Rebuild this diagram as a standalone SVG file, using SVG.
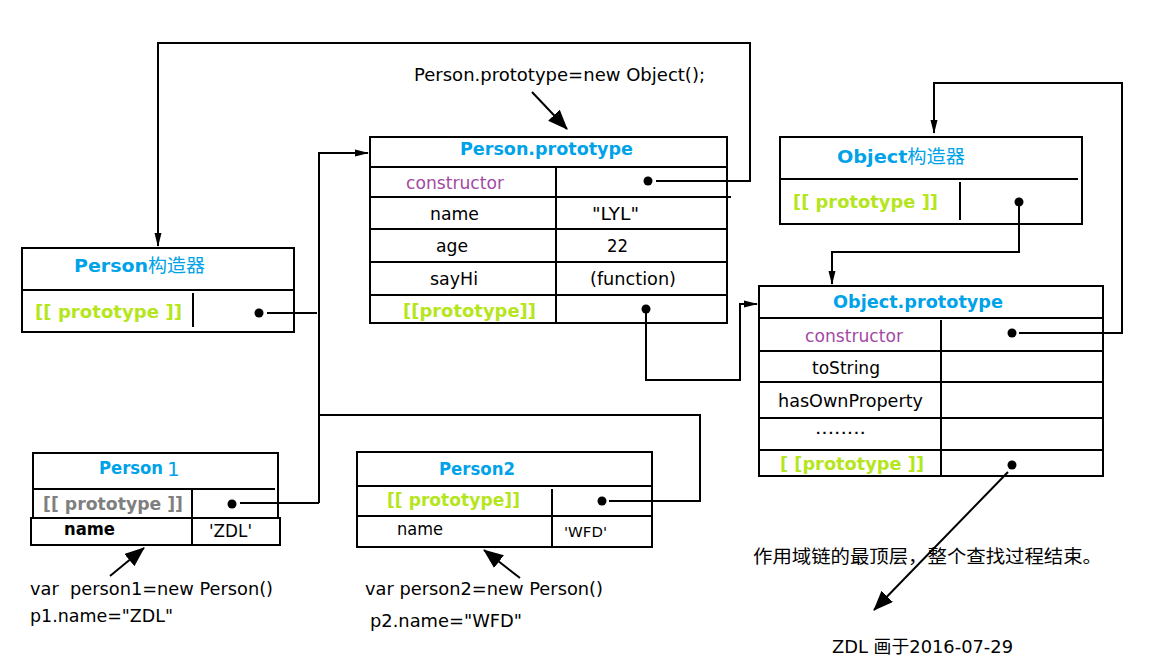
<svg xmlns="http://www.w3.org/2000/svg" width="1157" height="668" viewBox="0 0 1157 668">
<style>
text{font-family:"DejaVu Sans","Noto Sans CJK SC",sans-serif;font-size:18px;fill:#000}
.b{font-weight:bold}
.blue{fill:#00a2e8;font-weight:bold}
.green{fill:#b5e61d;font-weight:bold}
.gray{fill:#7f7f7f;font-weight:bold}
.purple{fill:#a349a4}
.cjk{font-weight:normal}
.box{fill:none;stroke:#000;stroke-width:2}
.ln{stroke:#000;stroke-width:2;fill:none}
.con{stroke:#000;stroke-width:2;fill:none}
.dot{fill:#000}
</style>
<defs>
<marker id="arr" markerUnits="userSpaceOnUse" markerWidth="14" markerHeight="8" refX="13" refY="4" orient="auto">
<path d="M0,0.5 L14,4 L0,7.5 z" fill="#000"/>
</marker>
<marker id="arrBig" markerUnits="userSpaceOnUse" markerWidth="20" markerHeight="16" refX="19" refY="8" orient="auto">
<path d="M0,0 L20,8 L0,16 z" fill="#000"/>
</marker>
</defs>
<rect width="1157" height="668" fill="#fff"/>

<g id="connectors">
<path class="con" d="M656,181 H750 V43 H158 V246" marker-end="url(#arr)"/>
<path class="con" d="M267,313 H317"/>
<path class="con" d="M319,503 V153 H368" marker-end="url(#arr)"/>
<path class="con" d="M240,503 H319"/>
<path class="con" d="M319,415 H700 V501 H609"/>
<path class="con" d="M646,313 V380 H740 V304 H757" marker-end="url(#arr)"/>
<path class="con" d="M1019,206 V252 H832 V284" marker-end="url(#arr)"/>
<path class="con" d="M1019,333 H1122 V83 H934 V133" marker-end="url(#arr)"/>
<path class="con" d="M1008,472 L874,610" marker-end="url(#arrBig)"/>
<path class="con" d="M532,92 L567,129" marker-end="url(#arrBig)"/>
<path class="con" d="M110,576 L144,548" marker-end="url(#arrBig)"/>
<path class="con" d="M520,578 L484,550" marker-end="url(#arrBig)"/>
</g>

<g id="label-new-object">
<text x="414" y="81" textLength="291" lengthAdjust="spacingAndGlyphs">Person.prototype=new Object();</text>
</g>

<g id="person-constructor">
<rect class="box" x="22" y="248" width="272" height="84"/>
<line class="ln" x1="22" y1="290" x2="294" y2="290"/>
<line class="ln" x1="193" y1="293" x2="193" y2="327"/>
<text x="74" y="272" textLength="131" lengthAdjust="spacingAndGlyphs"><tspan class="blue">Person</tspan><tspan class="blue cjk">构造器</tspan></text>
<text class="green" x="35" y="318" textLength="147" lengthAdjust="spacingAndGlyphs">[[ prototype ]]</text>
<circle class="dot" cx="259" cy="313" r="4.5"/>
</g>

<g id="person-prototype">
<rect class="box" x="370" y="137" width="357" height="186"/>
<line class="ln" x1="370" y1="167" x2="727" y2="167"/>
<line class="ln" x1="370" y1="197" x2="731" y2="197"/>
<line class="ln" x1="370" y1="229" x2="727" y2="229"/>
<line class="ln" x1="370" y1="262" x2="727" y2="262"/>
<line class="ln" x1="370" y1="295" x2="727" y2="295"/>
<line class="ln" x1="556" y1="167" x2="556" y2="323"/>
<text class="blue" x="460" y="155" textLength="173" lengthAdjust="spacingAndGlyphs">Person.prototype</text>
<text class="purple" x="406" y="189" textLength="98" lengthAdjust="spacingAndGlyphs">constructor</text>
<text x="430" y="220" textLength="49" lengthAdjust="spacingAndGlyphs">name</text>
<text x="592" y="220" textLength="47" lengthAdjust="spacingAndGlyphs">"LYL"</text>
<text x="436" y="252" textLength="32" lengthAdjust="spacingAndGlyphs">age</text>
<text x="607" y="252" textLength="21" lengthAdjust="spacingAndGlyphs">22</text>
<text x="430" y="285" textLength="48" lengthAdjust="spacingAndGlyphs">sayHi</text>
<text x="590" y="285" textLength="86" lengthAdjust="spacingAndGlyphs">(function)</text>
<text class="green" x="403" y="317" textLength="133" lengthAdjust="spacingAndGlyphs">[[prototype]]</text>
<circle class="dot" cx="648" cy="181" r="4.5"/>
<circle class="dot" cx="646" cy="309" r="4.5"/>
</g>

<g id="object-constructor">
<rect class="box" x="780" y="137" width="302" height="87"/>
<line class="ln" x1="780" y1="179" x2="1078" y2="179"/>
<line class="ln" x1="960" y1="182" x2="960" y2="220"/>
<text x="837" y="163" textLength="128" lengthAdjust="spacingAndGlyphs"><tspan class="blue">Object</tspan><tspan class="blue cjk">构造器</tspan></text>
<text class="green" x="793" y="208" textLength="145" lengthAdjust="spacingAndGlyphs">[[ prototype ]]</text>
<circle class="dot" cx="1019" cy="202" r="4.5"/>
</g>

<g id="object-prototype">
<rect class="box" x="759" y="286" width="344" height="190"/>
<line class="ln" x1="759" y1="318" x2="1103" y2="318"/>
<line class="ln" x1="759" y1="351" x2="1103" y2="351"/>
<line class="ln" x1="759" y1="382" x2="1103" y2="382"/>
<line class="ln" x1="759" y1="418" x2="1103" y2="418"/>
<line class="ln" x1="759" y1="450" x2="1103" y2="450"/>
<line class="ln" x1="941" y1="320" x2="941" y2="476"/>
<text class="blue" x="833" y="308" textLength="170" lengthAdjust="spacingAndGlyphs">Object.prototype</text>
<text class="purple" x="805" y="342" textLength="98" lengthAdjust="spacingAndGlyphs">constructor</text>
<text x="812" y="374" textLength="68" lengthAdjust="spacingAndGlyphs">toString</text>
<text x="778" y="407" textLength="145" lengthAdjust="spacingAndGlyphs">hasOwnProperty</text>
<text x="815" y="434" textLength="51" lengthAdjust="spacingAndGlyphs">........</text>
<text class="green" x="780" y="470" textLength="144" lengthAdjust="spacingAndGlyphs">[ [prototype ]]</text>
<circle class="dot" cx="1012" cy="333" r="4.5"/>
<circle class="dot" cx="1012" cy="465" r="4.5"/>
</g>

<g id="person1">
<rect class="box" x="33" y="453" width="245" height="65"/>
<line class="ln" x1="33" y1="489" x2="275" y2="489"/>
<rect class="box" x="31" y="518" width="249" height="27"/>
<line class="ln" x1="192" y1="489" x2="192" y2="545"/>
<text class="blue" x="99" y="474" textLength="64" lengthAdjust="spacingAndGlyphs">Person</text>
<text class="blue" x="167" y="476" style="font-weight:normal;font-size:20px">1</text>
<text class="gray" x="43" y="510" textLength="140" lengthAdjust="spacingAndGlyphs">[[ prototype ]]</text>
<text class="b" x="64" y="535" textLength="51" lengthAdjust="spacingAndGlyphs">name</text>
<text x="209" y="537" textLength="43" lengthAdjust="spacingAndGlyphs">'ZDL'</text>
<circle class="dot" cx="232" cy="504" r="4.5"/>
<text x="30" y="595" textLength="243" lengthAdjust="spacingAndGlyphs" xml:space="preserve">var  person1=new Person()</text>
<text x="30" y="622" textLength="143" lengthAdjust="spacingAndGlyphs">p1.name="ZDL"</text>
</g>

<g id="person2">
<rect class="box" x="357" y="452" width="295" height="95"/>
<line class="ln" x1="357" y1="486" x2="652" y2="486"/>
<line class="ln" x1="357" y1="516" x2="652" y2="516"/>
<line class="ln" x1="552" y1="489" x2="552" y2="547"/>
<text class="blue" x="439" y="475" textLength="76" lengthAdjust="spacingAndGlyphs">Person2</text>
<text class="green" x="387" y="506" textLength="133" lengthAdjust="spacingAndGlyphs">[[ prototype]]</text>
<text x="397" y="535" textLength="46" lengthAdjust="spacingAndGlyphs">name</text>
<text x="564" y="537" style="font-size:14px" textLength="43" lengthAdjust="spacingAndGlyphs">'WFD'</text>
<circle class="dot" cx="602" cy="501" r="4.5"/>
<text x="365" y="595" textLength="238" lengthAdjust="spacingAndGlyphs">var person2=new Person()</text>
<text x="370" y="627" textLength="152" lengthAdjust="spacingAndGlyphs">p2.name="WFD"</text>
</g>

<g id="notes">
<text x="753" y="563" style="font-size:18px" textLength="349" lengthAdjust="spacingAndGlyphs">作用域链的最顶层，整个查找过程结束。</text>
<text x="832" y="653" textLength="181" lengthAdjust="spacingAndGlyphs">ZDL 画于2016-07-29</text>
</g>
</svg>
